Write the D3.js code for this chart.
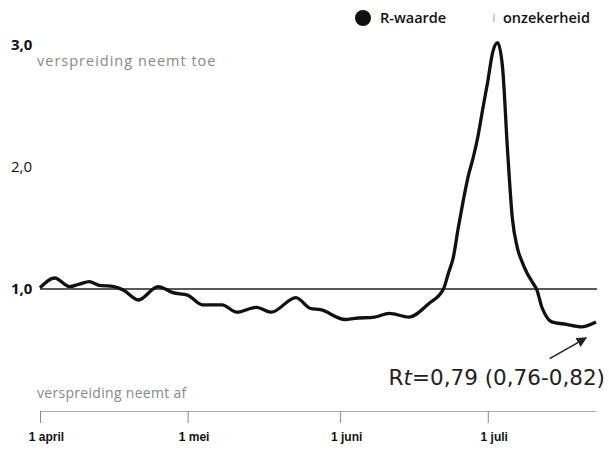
<!DOCTYPE html>
<html>
<head>
<meta charset="utf-8">
<script src="https://cdn.jsdelivr.net/npm/d3@7"></script>
<style>
  body { margin: 0; background: #fff; }
  svg { display: block; font-family: "Open Sans", "Liberation Sans", sans-serif; }
</style>
</head>
<body>
<svg id="chart" width="609" height="450"></svg>
<script>
// --- Data ---
const dates = [
  "2020-04-01", "2020-04-04", "2020-04-07", "2020-04-09", "2020-04-11", "2020-04-13",
  "2020-04-16", "2020-04-18", "2020-04-21", "2020-04-25", "2020-04-28", "2020-05-01",
  "2020-05-04", "2020-05-08", "2020-05-11", "2020-05-15", "2020-05-18", "2020-05-23",
  "2020-05-26", "2020-05-28", "2020-06-02", "2020-06-04", "2020-06-08", "2020-06-11",
  "2020-06-15", "2020-06-19", "2020-06-22", "2020-06-23", "2020-06-24", "2020-06-25",
  "2020-06-26", "2020-06-27", "2020-06-28", "2020-06-29", "2020-06-30", "2020-07-01",
  "2020-07-02", "2020-07-03", "2020-07-04", "2020-07-05", "2020-07-06", "2020-07-07",
  "2020-07-08", "2020-07-09", "2020-07-10", "2020-07-11", "2020-07-12", "2020-07-13",
  "2020-07-14", "2020-07-17", "2020-07-20", "2020-07-23"
];
const rValues = [
  1.01, 1.09, 1.02, 1.04, 1.06, 1.03,
  1.02, 0.99, 0.91, 1.02, 0.97, 0.95,
  0.87, 0.87, 0.81, 0.85, 0.81, 0.93,
  0.84, 0.83, 0.75, 0.76, 0.77, 0.80,
  0.77, 0.88, 1.00, 1.13, 1.26, 1.50,
  1.72, 1.92, 2.07, 2.25, 2.48, 2.70,
  2.94, 3.02, 2.82, 2.15, 1.58, 1.34,
  1.22, 1.13, 1.06, 0.99, 0.85, 0.77,
  0.73, 0.71, 0.69, 0.73
];
const xTickDates = ["2020-04-01", "2020-05-01", "2020-06-01", "2020-07-01"];
const xTickLabels = ["1 april", "1 mei", "1 juni", "1 juli"];
const yTicks = [1, 2, 3];
const yTickLabels = ["1,0", "2,0", "3,0"];
const yTickBold = [true, false, true];

const parse = d3.timeParse("%Y-%m-%d");
const data = dates.map((d, i) => ({ date: parse(d), r: rValues[i] }));

// --- Setup ---
const svg = d3.select("#chart");
const x = d3.scaleTime()
  .domain([parse("2020-04-01"), parse("2020-07-23")])
  .range([40, 596]);
const y = d3.scaleLinear().domain([0, 3]).range([411, 45]);

// --- Axis ---
const xAxis = svg.append("g")
  .attr("transform", `translate(0,${y(0)})`)
  .call(d3.axisBottom(x)
    .tickValues(xTickDates.map(parse))
    .tickFormat((d, i) => xTickLabels[i])
    .tickSize(12)
    .tickSizeOuter(0)
    .tickPadding(9));
xAxis.select(".domain").attr("stroke", "#aaa");
xAxis.selectAll(".tick line").attr("stroke", "#888");
xAxis.selectAll(".tick text")
  .attr("dx", 6)
  .attr("fill", "#111")
  .attr("font-size", 12)
  .attr("font-weight", 700);

// y labels
svg.selectAll(".ylab")
  .data(yTicks)
  .join("text")
  .attr("class", "ylab")
  .attr("x", 11)
  .attr("y", d => y(d))
  .attr("dy", "0.35em")
  .attr("font-size", 15)
  .attr("font-weight", (d, i) => yTickBold[i] ? 700 : 400)
  .attr("fill", "#111")
  .text((d, i) => yTickLabels[i]);

// region texts
svg.append("text")
  .attr("x", 37)
  .attr("y", y(3) + 16)
  .attr("dy", "0.35em")
  .attr("font-size", 14.5)
  .attr("letter-spacing", 1)
  .attr("fill", "#888")
  .text("verspreiding neemt toe");

svg.append("text")
  .attr("x", 37)
  .attr("y", y(0) - 18)
  .attr("dy", "0.35em")
  .attr("font-size", 14)
  .attr("letter-spacing", 0.3)
  .attr("fill", "#888")
  .text("verspreiding neemt af");

// --- Threshold line at 1,0 ---
svg.append("line")
  .attr("x1", x.range()[0])
  .attr("x2", x.range()[1] + 1)
  .attr("y1", y(1))
  .attr("y2", y(1))
  .attr("stroke", "#222")
  .attr("stroke-width", 1.3);

// --- R line ---
const line = d3.line()
  .x(d => x(d.date))
  .y(d => y(d.r))
  .curve(d3.curveMonotoneX);

svg.append("path")
  .datum(data)
  .attr("fill", "none")
  .attr("stroke", "#111")
  .attr("stroke-width", 3.3)
  .attr("stroke-linejoin", "round")
  .attr("d", line);

// --- Legend ---
svg.append("circle")
  .attr("cx", 363)
  .attr("cy", 18)
  .attr("r", 8)
  .attr("fill", "#111");
svg.append("text")
  .attr("x", 380)
  .attr("y", 18)
  .attr("dy", "0.35em")
  .attr("font-size", 14.5)
  .attr("font-weight", 600)
  .attr("fill", "#111")
  .text("R-waarde");
svg.append("rect")
  .attr("x", 493)
  .attr("y", 14)
  .attr("width", 2)
  .attr("height", 8)
  .attr("fill", "#ccc");
svg.append("text")
  .attr("x", 503)
  .attr("y", 18)
  .attr("dy", "0.35em")
  .attr("font-size", 14.5)
  .attr("font-weight", 600)
  .attr("fill", "#111")
  .text("onzekerheid");

// --- Annotation ---
svg.append("defs").append("marker")
  .attr("id", "arrow")
  .attr("viewBox", "0 0 10 10")
  .attr("refX", 9)
  .attr("refY", 5)
  .attr("markerWidth", 7)
  .attr("markerHeight", 7)
  .attr("orient", "auto")
  .append("path")
  .attr("d", "M0,0L10,5L0,10z")
  .attr("fill", "#222");

svg.append("line")
  .attr("x1", x(parse("2020-07-14")) - 2)
  .attr("y1", y(0.43))
  .attr("x2", x(parse("2020-07-21")))
  .attr("y2", y(0.60))
  .attr("stroke", "#222")
  .attr("stroke-width", 1.5)
  .attr("marker-end", "url(#arrow)");

const ann = svg.append("text")
  .attr("x", 605)
  .attr("y", 385)
  .attr("text-anchor", "end")
  .attr("font-family", "DejaVu Sans")
  .attr("font-size", 21.5)
  .attr("fill", "#222");
ann.append("tspan").text("R");
ann.append("tspan").attr("font-style", "italic").text("t");
ann.append("tspan").text("=0,79 (0,76-0,82)");
</script>
</body>
</html>
